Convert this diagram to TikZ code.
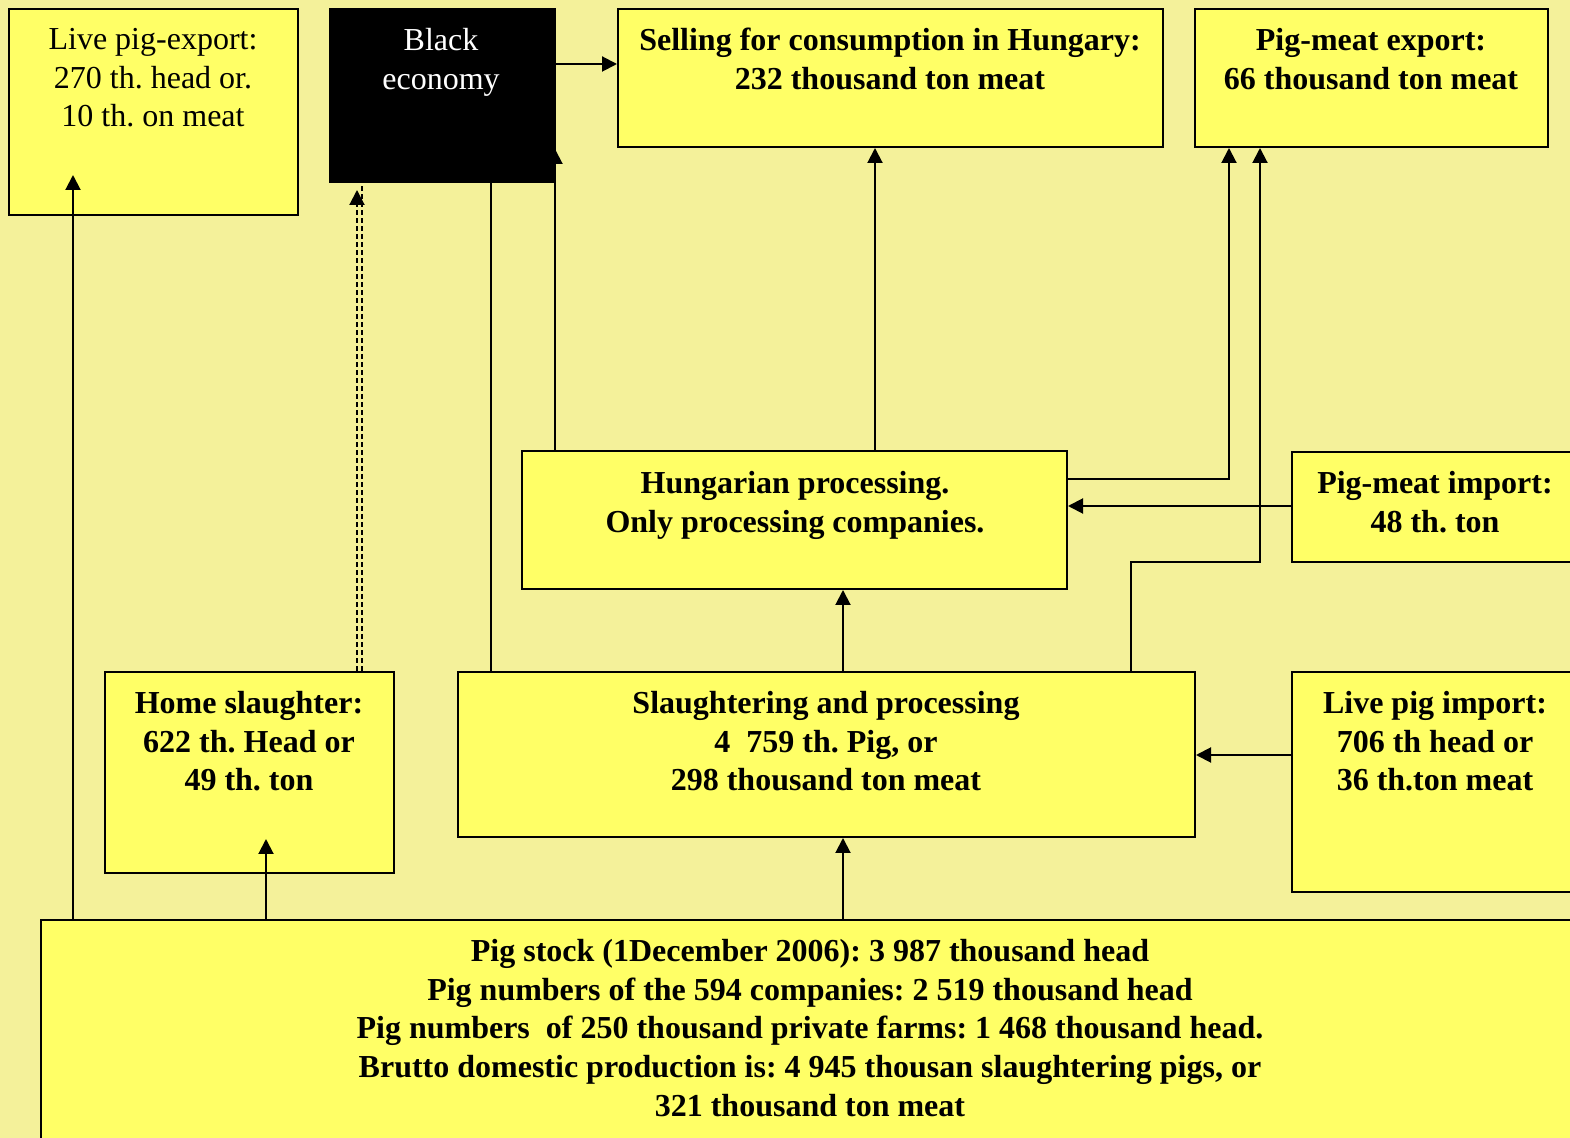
\documentclass[tikz,border=0pt]{standalone}
\usepackage{fontspec}
\setmainfont{Liberation Serif}
\usetikzlibrary{arrows.meta,fit}
\frenchspacing
\definecolor{bgyel}{RGB}{244,241,154}
\definecolor{boxyel}{RGB}{255,255,102}
\tikzset{
  box/.style={draw=black, line width=1pt, fill=boxyel, inner sep=0pt},
  blackbox/.style={draw=black, line width=1pt, fill=black, inner sep=0pt},
  lbl/.style={anchor=north, align=center, inner sep=0pt, font=\fontsize{16}{19.3}\selectfont\bfseries},
  lblr/.style={anchor=north, align=center, inner sep=0pt, font=\fontsize{16}{19.3}\selectfont},
  conn/.style={line width=1pt},
  arr/.style={line width=1pt, -{Triangle[width=7.5pt,length=7.5pt]}},
  dsh/.style={line width=1pt, dash pattern=on 2.5pt off 1.5pt}
}
\begin{document}
\begin{tikzpicture}[x=0.5pt,y=-0.5pt]
\useasboundingbox (0,0) rectangle (1570,1138);
\clip (0,0) rectangle (1570,1138);
\fill[bgyel] (0,0) rectangle (1570,1138);
% boxes
\node[box, fit={(9,9)(298,215)}] (lpe) {};
\node[blackbox, fit={(330,9)(555,182)}] (blk) {};
\node[box, fit={(618,9)(1163,147)}] (sell) {};
\node[box, fit={(1195,9)(1548,147)}] (pme) {};
\node[box, fit={(522,451)(1067,589)}] (hp) {};
\node[box, fit={(1292,452)(1600,562)}] (pmi) {};
\node[box, fit={(105,672)(394,873)}] (home) {};
\node[box, fit={(458,672)(1195,837)}] (sl) {};
\node[box, fit={(1292,672)(1600,892)}] (lpi) {};
\node[box, fit={(41,920)(1600,1160)}] (bot) {};
% texts
\node[lblr] (tlpe) at (153,28) {Live pig-export:\\270 th. head or.\\10 th. on meat};
\node[lblr, text=white] (tblk) at (441,28) {Black\\economy};
\node[lbl] (tsell) at (890,28) {Selling for consumption in Hungary:\\232 thousand ton meat};
\node[lbl] (tpme) at (1371,28) {Pig-meat export:\\66 thousand ton meat};
\node[lbl] (thp) at (795,471) {Hungarian processing.\\Only processing companies.};
\node[lbl] (tpmi) at (1435,471) {Pig-meat import:\\48 th. ton};
\node[lbl] (thome) at (249,691) {Home slaughter:\\622 th. Head or\\49 th. ton};
\node[lbl] (tsl) at (826,691) {Slaughtering and processing\\4\ \ 759 th. Pig, or\\298 thousand ton meat};
\node[lbl] (tlpi) at (1435,691) {Live pig import:\\706 th head or\\36 th.ton meat};
\node[lbl] (tbot) at (810,939) {Pig stock (1December 2006): 3 987 thousand head\\Pig numbers of the 594 companies: 2 519 thousand head\\Pig numbers\ \ of 250 thousand private farms: 1 468 thousand head.\\Brutto domestic production is: 4 945 thousan slaughtering pigs, or\\321 thousand ton meat};
% free ends inside boxes
\coordinate (lpeIn) at (73,175);
\coordinate (homeIn) at (266,839);
\coordinate (blkIn) at (555,149);
\coordinate (blkDash) at (357,190);
% connectors
\draw[arr] (bot.north -| lpeIn) -- (lpeIn);
\draw[arr] (bot.north -| homeIn) -- (homeIn);
\draw[arr] (bot.north -| 843,0) -- (sl.south -| 843,0);
\draw[arr] (sl.north -| 843,0) -- (hp.south -| 843,0);
\draw[arr] (hp.north -| 875,0) -- (sell.south -| 875,0);
\draw[arr] (hp.north -| blkIn) -- (blkIn);
\draw[conn] (sl.north -| 491,0) -- (blk.south -| 491,0);
\draw[dsh, -{Triangle[width=7.5pt,length=7.5pt]}] (home.north -| blkDash) -- (blkDash);
\draw[dsh] (home.north -| 362,0) -- (blk.south -| 362,0);
\draw[arr] (blk.east |- 0,64) -- (sell.west |- 0,64);
\draw[arr] (hp.east |- 0,479) -| (pme.south -| 1229,0);
\draw[arr] (sl.north -| 1131,0) -- (1131,562) -| (pme.south -| 1260,0);
\draw[arr] (pmi.west |- 0,506) -- (hp.east |- 0,506);
\draw[arr] (lpi.west |- 0,755) -- (sl.east |- 0,755);
\end{tikzpicture}
\end{document}
